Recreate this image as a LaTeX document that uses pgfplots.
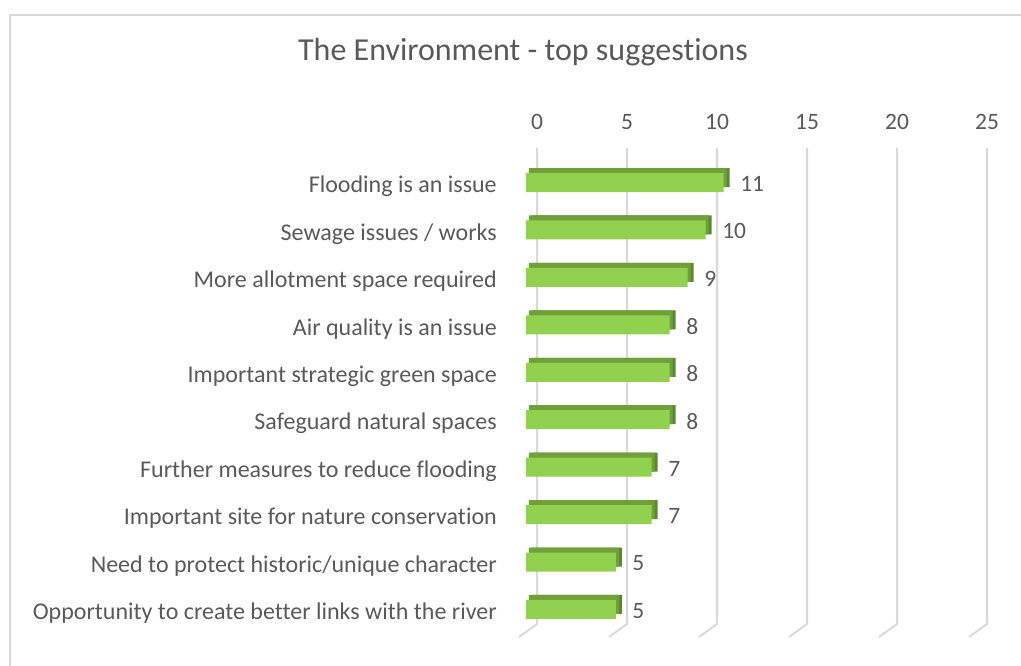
\documentclass[border=0pt]{standalone}
\usepackage{pgfplots}
\usepackage{pgfplotstable}
\pgfplotsset{compat=1.18}
\usepackage{fontspec}
\setmainfont{Carlito}[Ligatures=NoCommon]
\definecolor{txt}{HTML}{595959}
\definecolor{gridc}{HTML}{D9D9D9}
\definecolor{barfront}{HTML}{92D050}
\definecolor{bartop}{HTML}{70A03A}
\definecolor{barside}{HTML}{5A8A2A}
\pgfplotstableread{
y val
10 11
9 10
8 9
7 8
6 8
5 8
4 7
3 7
2 5
1 5
}\data
\begin{document}
\begin{tikzpicture}
\path[use as bounding box] (0pt,0pt) rectangle (1021pt,666pt);
\draw[gridc, line width=2pt] (10pt,0pt) -- (10pt,651pt) -- (1021pt,651pt);
\node[txt, font=\fontsize{32}{38}\selectfont, anchor=base] at (523pt,605.3pt) {The Environment - top suggestions};
% back wall with gridlines
\begin{axis}[at={(537pt,42pt)}, anchor=south west, scale only axis,
  width=450pt, height=476pt, xmin=0, xmax=25, ymin=0, ymax=1,
  axis line style={draw=none}, ytick=\empty, xtick={0,5,10,15,20,25},
  xticklabel pos=upper, major tick length=0pt,
  /pgf/number format/assume math mode=true,
  xticklabel style={txt, font=\fontsize{23.5}{28}\selectfont, anchor=south, inner sep=0pt, yshift=18pt},
  clip=false]
\pgfplotsinvokeforeach{0,5,10,15,20,25}{
  \draw[gridc, line width=2pt, line join=round] (axis cs:#1,1) -- (axis cs:#1,0) -- ++(-18pt,-13pt);
}
\end{axis}
% bars
\begin{axis}[at={(526pt,32.8pt)}, anchor=south west, scale only axis,
  width=449pt, height=474.4pt, xmin=0, xmax=25, ymin=0.5, ymax=10.5,
  axis line style={draw=none}, xtick=\empty, ytick={1,...,10},
  yticklabels={Opportunity to create better links with the river,
    Need to protect historic/unique character,
    Important site for nature conservation,
    Further measures to reduce flooding,
    Safeguard natural spaces,
    Important strategic green space,
    Air quality is an issue,
    More allotment space required,
    Sewage issues / works,
    Flooding is an issue},
  major tick length=0pt,
  yticklabel style={txt, font=\fontsize{24}{28}\selectfont, anchor=east, inner sep=0pt, xshift=-29pt, yshift=-4pt},
  xbar, bar width=19pt, bar shift=0pt, clip=false]
\addplot[xbar, bar shift=0pt, fill=barside, draw=none, xshift=6pt, yshift=5pt] table[x=val, y=y] {\data};
\addplot[xbar, bar shift=0pt, fill=bartop, draw=none, xshift=3pt, yshift=5pt] table[x=val, y=y] {\data};
\addplot[xbar, bar shift=0pt, fill=barfront, draw=none,
  nodes near coords,
  nodes near coords style={txt, font=\fontsize{23.5}{28}\selectfont, anchor=west, inner sep=0pt, xshift=16.5pt, yshift=-1.5pt},
  /pgf/number format/assume math mode=true] table[x=val, y=y] {\data};
\end{axis}
\end{tikzpicture}
\end{document}
